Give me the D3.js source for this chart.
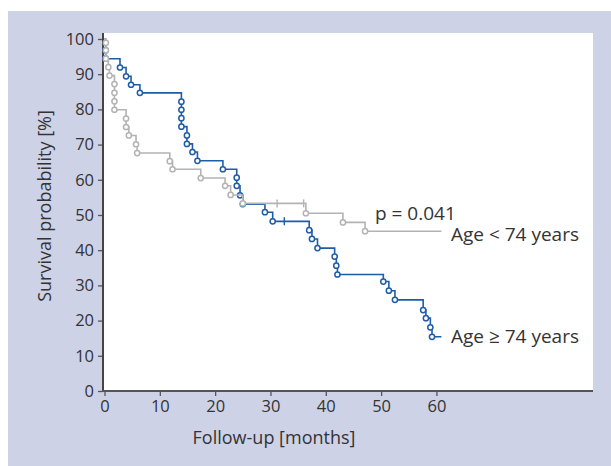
<!DOCTYPE html>
<html>
<head>
<meta charset="utf-8">
<script src="https://cdn.jsdelivr.net/npm/d3@7"></script>
<style>
  body { margin: 0; background: #fff; }
  text { font-family: "Open Sans", sans-serif; fill: #333; }
</style>
</head>
<body>
<div id="chart"></div>
<script>
var w = 611; // page width
var h = 466; // page height

// Age < 74 years (gray): event times [months] and survival after each event [%]
var youngTimes = [0.25, 0.25, 0.25, 0.7, 0.9, 1.8, 1.8, 1.8, 1.8, 3.9, 3.9, 4.4, 5.7, 5.9,
                  11.8, 12.3, 17.4, 21.8, 22.8, 25.0, 36.4, 43.1, 47.1];
var youngSurv = [98.9, 96.8, 94.4, 92.0, 89.6, 87.2, 84.7, 82.3, 79.9, 77.4, 75.0, 72.6, 70.1, 67.6,
                 65.3, 63.0, 60.5, 58.3, 55.7, 53.3, 50.5, 47.9, 45.4];
var youngCensor = [31.2, 36.0];
var youngEnd = 60.9;

// Age >= 74 years (blue)
var oldTimes = [0.2, 0.2, 2.8, 3.9, 4.8, 6.4, 13.9, 13.9, 13.9, 13.9, 14.9, 14.9, 15.9, 16.8,
                21.4, 23.9, 23.9, 24.5, 25.0, 29.0, 30.4, 37.0, 37.5, 38.5, 41.6, 41.9, 42.1,
                50.4, 51.4, 52.5, 57.6, 58.1, 58.9, 59.2];
var oldSurv = [96.8, 94.4, 91.9, 89.4, 87.0, 84.7, 82.2, 79.9, 77.5, 75.1, 72.6, 70.2, 67.9, 65.4,
               63.0, 60.6, 58.3, 55.6, 53.1, 50.8, 48.2, 45.7, 43.2, 40.6, 38.2, 35.6, 33.1,
               31.1, 28.5, 25.9, 23.0, 20.7, 18.1, 15.4];
var oldCensor = [32.5];
var oldEnd = 60.9;

var xTicks = [0, 10, 20, 30, 40, 50, 60];
var yTicks = [0, 10, 20, 30, 40, 50, 60, 70, 80, 90, 100];

var plotLeft = 103, plotRight = 593, plotTop = 33, plotBottom = 391;

var xScale = d3.scaleLinear().domain([0, 88.3]).range([104.5, plotRight]);
var yScale = d3.scaleLinear().domain([0, 100]).range([plotBottom, 39]);

var svg = d3.select("#chart").append("svg")
    .attr("width", w)
    .attr("height", h);

// panel background
svg.append("rect")
    .attr("x", 8).attr("y", 11)
    .attr("width", w - 8).attr("height", h - 11)
    .attr("fill", "#ced2e7");

svg.append("rect")
    .attr("x", plotLeft).attr("y", plotTop)
    .attr("width", plotRight - plotLeft).attr("height", plotBottom - plotTop)
    .attr("fill", "#fff");

// axes
var xAxis = svg.append("g")
    .attr("transform", "translate(0," + plotBottom + ")")
    .call(d3.axisBottom(xScale).tickValues(xTicks).tickSize(5).tickSizeOuter(0).tickPadding(4));
xAxis.select(".domain").remove();
xAxis.selectAll("line").attr("stroke", "#555").attr("stroke-width", 1.3);
xAxis.selectAll("text").attr("font-size", "16.5px").attr("fill", "#333");

var yAxis = svg.append("g")
    .attr("transform", "translate(" + plotLeft + ",0)")
    .call(d3.axisLeft(yScale).tickValues(yTicks).tickSize(5).tickSizeOuter(0).tickPadding(4));
yAxis.select(".domain").remove();
yAxis.selectAll("line").attr("stroke", "#555").attr("stroke-width", 1.3);
yAxis.selectAll("text").attr("font-size", "16.5px").attr("fill", "#333");

svg.append("line")
    .attr("x1", plotLeft).attr("x2", plotLeft)
    .attr("y1", plotTop).attr("y2", plotBottom + 1)
    .attr("stroke", "#444").attr("stroke-width", 2);
svg.append("line")
    .attr("x1", plotLeft - 1).attr("x2", plotRight)
    .attr("y1", plotBottom).attr("y2", plotBottom)
    .attr("stroke", "#555").attr("stroke-width", 2.2);

// axis titles
svg.append("text")
    .attr("x", 274).attr("y", 444)
    .attr("text-anchor", "middle")
    .attr("font-size", "18px")
    .text("Follow-up [months]");

svg.append("text")
    .attr("transform", "translate(51,206) rotate(-90)")
    .attr("text-anchor", "middle")
    .attr("font-size", "18px")
    .text("Survival probability [%]");

// Kaplan-Meier curves
function kmPoints(times, surv, end) {
    var pts = [{ t: 0, s: 100 }];
    times.forEach(function(t, i) { pts.push({ t: t, s: surv[i] }); });
    pts.push({ t: end, s: surv[surv.length - 1] });
    return pts;
}

function survAt(times, surv, t) {
    var s = 100;
    times.forEach(function(tt, i) { if (tt <= t) s = surv[i]; });
    return s;
}

var line = d3.line()
    .x(function(d) { return xScale(d.t); })
    .y(function(d) { return yScale(d.s); })
    .curve(d3.curveStepAfter);

function drawCurve(times, surv, censor, end, color) {
    var g = svg.append("g");
    g.append("path")
        .datum(kmPoints(times, surv, end))
        .attr("d", line)
        .attr("fill", "none")
        .attr("stroke", color)
        .attr("stroke-width", 1.6);

    g.selectAll("line.censor")
        .data(censor)
        .enter()
        .append("line")
        .attr("class", "censor")
        .attr("x1", function(d) { return xScale(d); })
        .attr("x2", function(d) { return xScale(d); })
        .attr("y1", function(d) { return yScale(survAt(times, surv, d)) - 4; })
        .attr("y2", function(d) { return yScale(survAt(times, surv, d)) + 4; })
        .attr("stroke", color)
        .attr("stroke-width", 1.4);

    g.selectAll("circle")
        .data(times)
        .enter()
        .append("circle")
        .attr("cx", function(d) { return xScale(d); })
        .attr("cy", function(d, i) { return yScale(surv[i]); })
        .attr("r", 2.6)
        .attr("fill", "#fff")
        .attr("stroke", color)
        .attr("stroke-width", 1.5);
}

drawCurve(oldTimes, oldSurv, oldCensor, oldEnd, "#1f5ca8");
drawCurve(youngTimes, youngSurv, youngCensor, youngEnd, "#b3b3b3");

// annotations
svg.append("text")
    .attr("x", 375).attr("y", 220)
    .attr("font-size", "19px")
    .text("p = 0.041");

svg.append("text")
    .attr("x", 451).attr("y", 241)
    .attr("font-size", "19px")
    .text("Age < 74 years");

svg.append("text")
    .attr("x", 451).attr("y", 343)
    .attr("font-size", "19px")
    .text("Age \u2265 74 years");
</script>
</body>
</html>
